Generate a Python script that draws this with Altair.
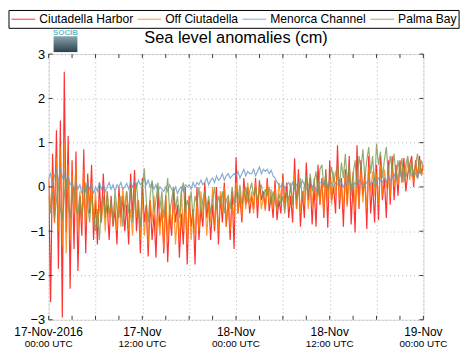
import altair as alt
import pandas as pd

# ---------------- data ----------------
series_names = ["Ciutadella Harbor", "Off Ciutadella", "Menorca Channel", "Palma Bay"]
series_colors = ["#ff0000", "#ff7f00", "#6a98c4", "#7b9650"]
step_hours = 0.25  # one reading every 15 minutes, 17-Nov-2016 00:00 UTC onwards

ciutadella_harbor = [
    0.2, -2.6, 0.75, -0.8, 1.28, -1.85, 1.5, -2.95, 2.6, -1.0, 1.15, -2.3,
    0.6, -1.4, 0.8, -1.9, -0.2, -1.1, 0.85, -1.5, 0.3, -0.6, 0.5, -1.2,
    -0.3, -1.3, 0.1, -0.8, 0.3, -0.6, -0.4, -1.2, -0.2, -0.9, -0.5, -1.3,
    0.0, -0.7, -0.2, -1.0, -0.4, -1.3, 0.3, -0.7, 0.38, -1.0, -0.3, -1.5,
    0.2, -0.8, -0.4, -1.57, -0.3, -1.2, -0.6, -1.6, -0.1, -0.9, -0.5, -1.5,
    -0.2, -1.7, -0.6, -1.1, -0.05, -0.8, -0.4, -1.6, -0.6, -1.3, 0.0, -1.75,
    -0.2, -0.9, -0.5, -1.75, 0.0, -1.2, -0.5, -0.9, 0.1, -0.7, -0.3, -1.2,
    -0.4, -1.0, 0.0, -1.3, -0.2, -0.8, 0.1, -0.9, -0.3, -1.2, -0.1, -1.4,
    0.67, -0.6, -0.2, -0.8, 0.2, -0.4, 0.0, -0.6, -0.2, -0.5, 0.2, -0.7,
    0.15, -0.3, -0.1, -0.5, 0.2, -0.55, -0.2, -0.7, 0.15, -0.75, -0.3, -0.6,
    0.3, -0.4, 0.1, -0.7, -0.2, -0.8, 0.65, -0.5, 0.4, -0.9, -0.1, -0.7,
    0.55, -0.3, 0.2, -0.85, 0.0, -0.9, 0.5, -0.4, 0.2, -0.7, 0.4, -0.92,
    0.6, -0.3, 0.0, -0.6, 0.94, -0.5, 0.2, -0.9, 0.4, -0.4, 0.7, -0.85,
    0.1, -1.03, 0.94, -0.5, 0.6, -0.2, 0.3, -0.95, 0.7, -0.6, 0.1, -0.8,
    0.5, -0.75, 0.7, -0.3, 0.2, -0.7, 0.6, -0.4, 0.7, -0.3, 0.5, -0.2,
    0.6, 0.1, 0.65, -0.1, 0.3, 0.5, 0.7, 0.0, 0.6, 0.2, 0.7, 0.3,
    0.5,
]

off_ciutadella = [
    0.1, -0.5, 0.3, -0.8, 0.67, -1.0, 0.9, -1.34, 1.0, -1.5, 0.5, -1.2,
    0.3, -0.6, 0.5, -1.0, -0.1, -0.8, 0.4, -0.9, 0.0, -0.5, 0.1, -0.9,
    -0.1, -0.9, -0.4, -0.8, -0.2, -1.0, -0.1, -0.7, -0.4, -0.8, -0.3, -1.0,
    -0.2, -0.9, 0.0, -0.6, -0.1, -1.0, -0.5, -1.1, 0.0, -0.7, -0.3, -1.2,
    -0.2, -1.1, -0.5, -1.3, -0.3, -0.8, -0.2, -1.0, -0.6, -1.1, -0.3, -1.4,
    -0.2, -1.2, -0.4, -0.9, -0.3, -1.3, -0.6, -1.2, -0.1, -1.0, -0.4, -1.3,
    -0.2, -1.2, -0.5, -1.1, -0.3, -1.0, -0.1, -0.7, -0.1, -1.1, -0.4, -0.8,
    0.0, -0.9, -0.3, -1.0, -0.1, -0.6, 0.0, -0.9, -0.2, -1.0, -0.4, -0.7,
    0.1, -0.6, -0.1, -0.7, 0.0, -0.5, 0.1, -0.4, -0.1, -0.6, 0.1, -0.4,
    0.0, -0.5, -0.2, -0.55, 0.1, -0.4, -0.05, -0.5, 0.0, -0.55, 0.1, -0.3,
    0.2, -0.5, -0.1, -0.45, 0.1, -0.4, 0.3, -0.5, 0.1, -0.6, -0.1, -0.4,
    0.25, -0.5, 0.0, -0.45, 0.2, -0.3, 0.1, -0.4, 0.15, -0.6, 0.3, -0.35,
    0.2, -0.4, 0.35, -0.2, 0.4, -0.3, 0.0, -0.5, 0.3, -0.45, 0.4, -0.1,
    0.35, -0.55, 0.1, -0.4, 0.4, -0.35, 0.2, -0.5, 0.45, -0.1, 0.35, -0.2,
    0.3, -0.4, 0.5, -0.2, 0.4, 0.0, 0.3, -0.25, 0.5, 0.0, 0.4, 0.05,
    0.55, 0.1, 0.45, 0.2, 0.6, 0.15, 0.5, 0.1, 0.55, 0.2, 0.6, 0.25,
    0.45,
]

menorca_channel = [
    0.2, 0.3, 0.05, 0.25, 0.38, 0.1, 0.45, 0.2, 0.3, 0.0, 0.25, 0.05,
    0.1, -0.1, 0.1, -0.05, 0.05, -0.15, 0.0, -0.1, 0.1, -0.05, 0.05, -0.15,
    0.0, -0.1, 0.1, -0.05, 0.05, -0.1, 0.0, 0.1, -0.05, 0.05, -0.1, 0.05,
    0.0, 0.1, -0.05, 0.0, 0.08, -0.05, 0.1, 0.0, 0.12, 0.0, 0.15, 0.05,
    0.1, 0.2, 0.05, 0.15, 0.0, 0.1, -0.05, 0.05, -0.1, 0.0, -0.05, -0.1,
    0.0, -0.1, 0.05, -0.05, -0.1, 0.0, -0.15, -0.05, 0.0, -0.1, 0.05, 0.0,
    0.05, -0.05, 0.1, 0.0, 0.1, 0.05, 0.15, 0.05, 0.1, 0.2, 0.05, 0.15,
    0.2, 0.1, 0.25, 0.15, 0.2, 0.3, 0.15, 0.25, 0.3, 0.2, 0.25, 0.3,
    0.25, 0.35, 0.2, 0.3, 0.4, 0.25, 0.35, 0.3, 0.3, 0.4, 0.25, 0.35,
    0.45, 0.3, 0.4, 0.35, 0.4, 0.3, 0.38, 0.25, 0.2, 0.1, 0.05, 0.0,
    0.1, -0.05, 0.05, 0.1, 0.0, 0.1, -0.05, 0.05, 0.1, 0.0, 0.15, 0.05,
    -0.05, 0.05, 0.1, 0.0, 0.05, -0.1, 0.0, 0.1, 0.1, 0.05, 0.15, 0.0,
    0.05, 0.1, 0.0, 0.1, 0.05, 0.15, 0.1, 0.0, 0.1, 0.05, 0.15, 0.05,
    0.0, 0.1, 0.05, 0.15, 0.1, 0.0, 0.05, 0.1, 0.15, 0.05, 0.1, 0.2,
    0.1, 0.2, 0.15, 0.1, 0.2, 0.1, 0.25, 0.15, 0.2, 0.3, 0.15, 0.25,
    0.3, 0.2, 0.35, 0.25, 0.3, 0.4, 0.25, 0.35, 0.3, 0.2, 0.35, 0.3,
    0.3,
]

palma_bay = [
    -0.2, -0.6, -0.1, -0.7, -0.3, 0.1, -0.5, -0.75, -0.2, 0.2, -0.4, -0.7,
    -0.3, 0.0, -0.5, -0.6, -0.2, -0.7, -0.3, 0.1, -0.4, -0.8, -0.2, -0.6,
    -1.0, -0.5, -1.2, -0.4, -0.2, -0.7, -0.1, -0.6, -0.3, -0.8, -0.1, -0.5,
    -0.7, -0.2, -0.9, -0.4, -0.1, -0.6, 0.0, -0.8, -0.3, 0.1, -0.5, -0.9,
    0.0, 0.42, -0.3, -0.8, -0.2, 0.15, -0.6, -0.3, 0.1, -0.5, -0.1, -0.7,
    -0.2, 0.2, -0.6, -0.3, 0.0, -0.5, -0.2, -0.7, -0.1, 0.1, -0.6, -0.3,
    -0.5, -0.1, -0.7, -0.2, -0.4, 0.0, -0.6, -0.3, -0.1, -0.5, -0.2, -0.6,
    -0.3, 0.0, -0.5, -0.2, -0.4, -0.1, -0.6, -0.3, -0.2, -0.5, 0.0, -0.4,
    -0.1, -0.3, 0.05, -0.4, -0.2, 0.0, -0.35, -0.1, 0.1, -0.2, 0.0, -0.3,
    -0.1, 0.05, -0.25, -0.05, -0.2, 0.0, -0.4, -0.1, -0.3, -0.5, -0.15, -0.4,
    -0.2, -0.6, -0.1, -0.3, 0.0, -0.4, 0.1, -0.3, -0.1, 0.2, -0.3, 0.0,
    0.25, -0.2, 0.3, -0.1, 0.1, 0.35, -0.2, 0.4, 0.5, 0.0, 0.3, -0.1,
    0.2, 0.45, 0.1, 0.3, 0.5, 0.0, 0.55, 0.2, 0.75, 0.1, 0.5, -0.2,
    0.3, 0.6, 0.0, 0.7, 0.4, 0.85, 0.2, 0.6, 0.9, 0.3, 0.7, 0.0,
    0.98, 0.5, 0.8, 0.2, 0.6, 0.9, 0.3, 0.7, 0.4, 0.75, 0.2, 0.6,
    0.3, 0.65, 0.1, 0.5, 0.7, 0.3, 0.6, 0.2, 0.5, 0.75, 0.3, 0.6,
    0.45,
]

title_text = "Sea level anomalies (cm)"
label_hours = [0, 12, 24, 36, 48]
date_labels = ["17-Nov-2016", "17-Nov", "18-Nov", "18-Nov", "19-Nov"]
time_labels = ["00:00 UTC", "12:00 UTC", "00:00 UTC", "12:00 UTC", "00:00 UTC"]
grid_hours = list(range(0, 49, 3))
y_ticks = [-3, -2, -1, 0, 1, 2, 3]

# ---------------- tables ----------------
rows = []
for name, vals in zip(series_names, [ciutadella_harbor, off_ciutadella, menorca_channel, palma_bay]):
    for i, v in enumerate(vals):
        rows.append({"series": name, "h": i * step_hours, "v": v})
df = pd.DataFrame(rows)
lab_df = pd.DataFrame({"h": label_hours, "date": date_labels, "time": time_labels})
gx_df = pd.DataFrame({"h": grid_hours})
gy_df = pd.DataFrame({"v": y_ticks})

W, H = 378, 268
FONT = "Liberation Sans"
FRAME = "#3a3a3a"

xscale = alt.Scale(domain=[0, 48], nice=False, zero=False)
yscale = alt.Scale(domain=[-3, 3], nice=False, zero=False)

lines = alt.Chart(df).mark_line(strokeWidth=1.2, opacity=0.8, clip=True).encode(
    x=alt.X("h:Q", scale=xscale,
            axis=alt.Axis(values=grid_hours, labels=False, ticks=False, domain=False,
                          grid=True, gridDash=[1, 3], gridColor="#b4b4b4", title=None)),
    y=alt.Y("v:Q", scale=yscale,
            axis=alt.Axis(values=y_ticks, ticks=False, domain=False, grid=True,
                          gridDash=[1, 3], gridColor="#b4b4b4", labelFontSize=13,
                          labelPadding=4, labelColor="black", title=None)),
    color=alt.Color("series:N",
                    scale=alt.Scale(domain=series_names, range=series_colors),
                    legend=alt.Legend(orient="none", legendX=-40.5, legendY=-44.5,
                                      direction="horizontal", columns=4, title=None,
                                      symbolType="M-1,0H3", symbolSize=144,
                                      symbolStrokeWidth=1.5, symbolOpacity=0.55,
                                      labelFontSize=12.2, labelFont=FONT, labelColor="black",
                                      labelOffset=15, columnPadding=1, padding=2,
                                      strokeColor="black", fillColor="white")),
    detail="series:N",
)

top_ticks = alt.Chart(gx_df).mark_rule(color=FRAME).encode(
    x=alt.X("h:Q", scale=xscale), y=alt.value(0), y2=alt.value(4))
bot_ticks = alt.Chart(gx_df).mark_rule(color=FRAME).encode(
    x=alt.X("h:Q", scale=xscale), y=alt.value(H - 4), y2=alt.value(H))
left_ticks = alt.Chart(gy_df).mark_rule(color=FRAME).encode(
    y=alt.Y("v:Q", scale=yscale), x=alt.value(0), x2=alt.value(4))
right_ticks = alt.Chart(gy_df).mark_rule(color=FRAME).encode(
    y=alt.Y("v:Q", scale=yscale), x=alt.value(W - 4), x2=alt.value(W))

date_text = alt.Chart(lab_df).mark_text(fontSize=12, font=FONT, align="center",
                                        baseline="alphabetic", color="black").encode(
    x=alt.X("h:Q", scale=xscale), y=alt.value(H + 16), text="date:N")
time_text = alt.Chart(lab_df).mark_text(fontSize=10, font=FONT, align="center",
                                        baseline="alphabetic", color="black").encode(
    x=alt.X("h:Q", scale=xscale), y=alt.value(H + 27), text="time:N")

title = alt.Chart(pd.DataFrame({"t": [title_text]})).mark_text(
    fontSize=16.5, font=FONT, align="center", baseline="alphabetic", color="black").encode(
    x=alt.value(W / 2), y=alt.value(-11), text="t:N")

logo_rect = alt.Chart(pd.DataFrame({"k": [1]})).mark_rect(
    color=alt.Gradient(gradient="linear", x1=0, y1=0, x2=0, y2=1,
                       stops=[alt.GradientStop(color="#8aa3ae", offset=0),
                              alt.GradientStop(color="#2b414d", offset=1)])).encode(
    x=alt.value(5), x2=alt.value(29), y=alt.value(-18), y2=alt.value(-2))
logo_text = alt.Chart(pd.DataFrame({"t": ["SOCIB"]})).mark_text(
    fontSize=8, font=FONT, fontWeight="bold", color="#5fc3cc", align="center",
    baseline="alphabetic").encode(x=alt.value(17), y=alt.value(-19.5), text="t:N")

chart = alt.layer(
    lines, top_ticks, bot_ticks, left_ticks, right_ticks,
    date_text, time_text, title, logo_rect, logo_text,
).properties(
    width=W, height=H,
    padding={"left": 41, "top": 45, "right": 45, "bottom": 30},
    autosize=alt.AutoSizeParams(type="none"),
).configure_view(
    stroke=FRAME, strokeWidth=1.5,
).configure(
    font=FONT,
).configure_axis(
    labelFont=FONT,
)

chart.save("out.html", embed_options={"renderer": "svg", "actions": False})
